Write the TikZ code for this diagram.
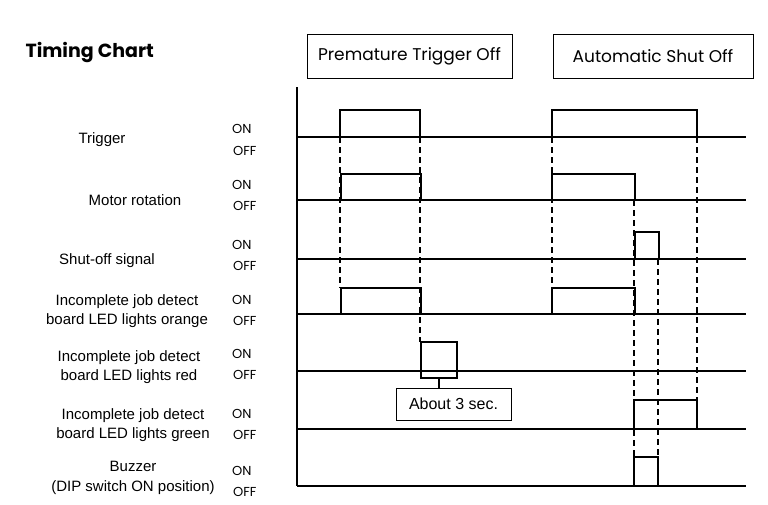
\documentclass[tikz,border=0pt]{standalone}
\usepackage{fontspec}
\setmainfont{Liberation Sans}
\newfontfamily\geo{Poppins}
\begin{document}
\begin{tikzpicture}[x=1pt,y=-1pt,
  sig/.style={line width=1.6pt},
  base/.style={line width=1.1pt},
  dsh/.style={line width=1.3pt,dash pattern=on 6pt off 4pt},
  lab/.style={font=\fontsize{15}{19.5}\selectfont,align=center},
  onoff/.style={font=\geo\fontsize{13}{14}\selectfont,anchor=west,inner sep=0pt},
  hdr/.style={draw,line width=0.7pt,minimum height=44pt,font=\geo\fontsize{17}{19}\selectfont}]
\useasboundingbox (0,0) rectangle (768,504);
\node[anchor=west,font=\geo\bfseries\fontsize{19}{21}\selectfont] (title) at (22,52) {Timing Chart};
\node[hdr,minimum width=205pt] (h1) at (409.5,56) {Premature Trigger Off};
\node[hdr,minimum width=200pt] (h2) at (653,56) {Automatic Shut Off};
% axis
\draw[base] (297,87) -- (297,486);
% baselines
\foreach \y in {137,200,259,314,371,429,486} \draw[base] (297,\y) -- (746,\y);
% labels
\node[lab] (l1) at (102,140) {Trigger};
\node[lab] (l2) at (135,200) {Motor rotation};
\node[lab] (l3) at (107,261) {Shut-off signal};
\node[lab] (l4) at (127,311) {Incomplete job detect\\board LED lights orange};
\node[lab] (l5) at (129,367) {Incomplete job detect\\board LED lights red};
\node[lab] (l6) at (133,425) {Incomplete job detect\\board LED lights green};
\node[lab] (l7) at (133,478) {Buzzer\\(DIP switch ON position)};
\foreach \n/\a/\b in {1/129/151,2/185/206,3/245/266,4/300/321,5/354/375,6/414/435,7/471/492}{
  \node[onoff] (on\n) at (232,\a) {ON};
  \node[onoff] (off\n) at (233,\b) {OFF};}
% signals
\draw[sig] (340,137) -- (340,110) -- (420,110) -- (420,137);
\draw[sig] (552,137) -- (552,110) -- (697,110) -- (697,137);
\draw[sig] (341,200) -- (341,174) -- (421,174) -- (421,200);
\draw[sig] (552,200) -- (552,174) -- (635,174) -- (635,200);
\draw[sig] (635,259) -- (635,232) -- (659,232) -- (659,259);
\draw[sig] (341,314) -- (341,288) -- (421,288) -- (421,314);
\draw[sig] (552,314) -- (552,288) -- (635,288) -- (635,314);
\draw[sig] (421,371) -- (421,342) -- (457,342) -- (457,371);
\draw[sig] (634,429) -- (634,400) -- (697,400) -- (697,429);
\draw[sig] (634,486) -- (634,457) -- (658,457) -- (658,486);
% dashed
\draw[dsh] (340,137) -- (340,288);
\draw[dsh] (420,137) -- (420,342);
\draw[dsh] (552,137) -- (552,288);
\draw[dsh] (634,200) -- (634,457);
\draw[dsh] (658,259) -- (658,457);
\draw[dsh] (697,137) -- (697,400);
% brace and box
\node[draw,line width=0.8pt,minimum width=115pt,minimum height=32pt,font=\fontsize{16}{18}\selectfont] (box) at (453.5,404) {About 3 sec.};
\draw[line width=1.2pt] (421,372) -- (421,378) -- (457,378) -- (457,372);
\coordinate (bt) at (439,378);
\draw[line width=1.2pt] (bt) -- (box.north-|bt);
\end{tikzpicture}
\end{document}
